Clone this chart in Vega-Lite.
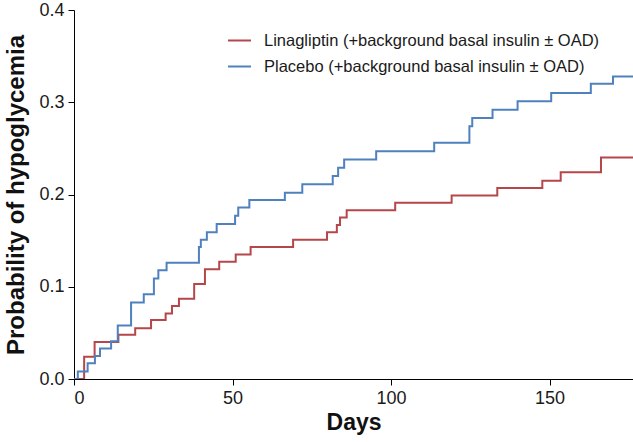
{
  "$schema": "https://vega.github.io/schema/vega-lite/v6.json",
  "width": 559,
  "height": 369,
  "autosize": {"type": "none"},
  "padding": {"left": 74, "top": 10, "right": 0, "bottom": 63},
  "background": "white",
  "config": {"view": {"stroke": null}, "font": "Liberation Sans"},
  "datasets": {
    "km": [
      {"series": "Linagliptin (+background basal insulin ± OAD)", "day": 0, "p": 0},
      {"series": "Linagliptin (+background basal insulin ± OAD)", "day": 3.2, "p": 0.024},
      {"series": "Linagliptin (+background basal insulin ± OAD)", "day": 6.5, "p": 0.04},
      {"series": "Linagliptin (+background basal insulin ± OAD)", "day": 14, "p": 0.048},
      {"series": "Linagliptin (+background basal insulin ± OAD)", "day": 19.3, "p": 0.055},
      {"series": "Linagliptin (+background basal insulin ± OAD)", "day": 24.3, "p": 0.064},
      {"series": "Linagliptin (+background basal insulin ± OAD)", "day": 28.9, "p": 0.071},
      {"series": "Linagliptin (+background basal insulin ± OAD)", "day": 30.9, "p": 0.079},
      {"series": "Linagliptin (+background basal insulin ± OAD)", "day": 33.1, "p": 0.087},
      {"series": "Linagliptin (+background basal insulin ± OAD)", "day": 37.9, "p": 0.103},
      {"series": "Linagliptin (+background basal insulin ± OAD)", "day": 41.3, "p": 0.119},
      {"series": "Linagliptin (+background basal insulin ± OAD)", "day": 45.8, "p": 0.127},
      {"series": "Linagliptin (+background basal insulin ± OAD)", "day": 51, "p": 0.135},
      {"series": "Linagliptin (+background basal insulin ± OAD)", "day": 55.7, "p": 0.143},
      {"series": "Linagliptin (+background basal insulin ± OAD)", "day": 69.1, "p": 0.151},
      {"series": "Linagliptin (+background basal insulin ± OAD)", "day": 79.8, "p": 0.159},
      {"series": "Linagliptin (+background basal insulin ± OAD)", "day": 82.9, "p": 0.167},
      {"series": "Linagliptin (+background basal insulin ± OAD)", "day": 83.9, "p": 0.175},
      {"series": "Linagliptin (+background basal insulin ± OAD)", "day": 86, "p": 0.183},
      {"series": "Linagliptin (+background basal insulin ± OAD)", "day": 101.3, "p": 0.191},
      {"series": "Linagliptin (+background basal insulin ± OAD)", "day": 119.1, "p": 0.199},
      {"series": "Linagliptin (+background basal insulin ± OAD)", "day": 133.5, "p": 0.207},
      {"series": "Linagliptin (+background basal insulin ± OAD)", "day": 147.7, "p": 0.215},
      {"series": "Linagliptin (+background basal insulin ± OAD)", "day": 153.5, "p": 0.224},
      {"series": "Linagliptin (+background basal insulin ± OAD)", "day": 166.2, "p": 0.24},
      {"series": "Linagliptin (+background basal insulin ± OAD)", "day": 176.3, "p": 0.24},
      {"series": "Placebo (+background basal insulin ± OAD)", "day": 0, "p": 0},
      {"series": "Placebo (+background basal insulin ± OAD)", "day": 1.2, "p": 0.008},
      {"series": "Placebo (+background basal insulin ± OAD)", "day": 4.3, "p": 0.017},
      {"series": "Placebo (+background basal insulin ± OAD)", "day": 6.6, "p": 0.025},
      {"series": "Placebo (+background basal insulin ± OAD)", "day": 8.2, "p": 0.033},
      {"series": "Placebo (+background basal insulin ± OAD)", "day": 11.7, "p": 0.041},
      {"series": "Placebo (+background basal insulin ± OAD)", "day": 13.8, "p": 0.058},
      {"series": "Placebo (+background basal insulin ± OAD)", "day": 18, "p": 0.083},
      {"series": "Placebo (+background basal insulin ± OAD)", "day": 22, "p": 0.092},
      {"series": "Placebo (+background basal insulin ± OAD)", "day": 25.2, "p": 0.109},
      {"series": "Placebo (+background basal insulin ± OAD)", "day": 26.6, "p": 0.118},
      {"series": "Placebo (+background basal insulin ± OAD)", "day": 29.2, "p": 0.126},
      {"series": "Placebo (+background basal insulin ± OAD)", "day": 39.4, "p": 0.143},
      {"series": "Placebo (+background basal insulin ± OAD)", "day": 40, "p": 0.151},
      {"series": "Placebo (+background basal insulin ± OAD)", "day": 41.9, "p": 0.159},
      {"series": "Placebo (+background basal insulin ± OAD)", "day": 45, "p": 0.168},
      {"series": "Placebo (+background basal insulin ± OAD)", "day": 50.8, "p": 0.177},
      {"series": "Placebo (+background basal insulin ± OAD)", "day": 51.8, "p": 0.186},
      {"series": "Placebo (+background basal insulin ± OAD)", "day": 55.3, "p": 0.194},
      {"series": "Placebo (+background basal insulin ± OAD)", "day": 66.5, "p": 0.202},
      {"series": "Placebo (+background basal insulin ± OAD)", "day": 72, "p": 0.211},
      {"series": "Placebo (+background basal insulin ± OAD)", "day": 81.6, "p": 0.22},
      {"series": "Placebo (+background basal insulin ± OAD)", "day": 83.3, "p": 0.229},
      {"series": "Placebo (+background basal insulin ± OAD)", "day": 85.2, "p": 0.238},
      {"series": "Placebo (+background basal insulin ± OAD)", "day": 95.3, "p": 0.247},
      {"series": "Placebo (+background basal insulin ± OAD)", "day": 113.6, "p": 0.256},
      {"series": "Placebo (+background basal insulin ± OAD)", "day": 124.7, "p": 0.274},
      {"series": "Placebo (+background basal insulin ± OAD)", "day": 125.6, "p": 0.283},
      {"series": "Placebo (+background basal insulin ± OAD)", "day": 132, "p": 0.292},
      {"series": "Placebo (+background basal insulin ± OAD)", "day": 139.9, "p": 0.301},
      {"series": "Placebo (+background basal insulin ± OAD)", "day": 150.5, "p": 0.31},
      {"series": "Placebo (+background basal insulin ± OAD)", "day": 163, "p": 0.32},
      {"series": "Placebo (+background basal insulin ± OAD)", "day": 170, "p": 0.328},
      {"series": "Placebo (+background basal insulin ± OAD)", "day": 176.3, "p": 0.328}
    ]
  },
  "data": {"name": "km"},
  "mark": {"type": "line", "interpolate": "step-after", "strokeWidth": 2, "clip": true},
  "encoding": {
    "x": {
      "field": "day", "type": "quantitative",
      "scale": {"domain": [0, 176.3], "nice": false, "zero": true},
      "axis": {
        "title": "Days", "values": [0, 50, 100, 150], "grid": false,
        "domainColor": "#000", "tickColor": "#000", "tickSize": 6,
        "labelFontSize": 18, "labelColor": "#1a1a1a", "labelPadding": 4,
        "titleFontSize": 23, "titleFontWeight": "bold", "titleColor": "#111", "titlePadding": 4
      }
    },
    "y": {
      "field": "p", "type": "quantitative",
      "scale": {"domain": [0, 0.4], "nice": false},
      "axis": {
        "title": "Probability of hypoglycemia", "values": [0, 0.1, 0.2, 0.3, 0.4], "format": ".1f", "grid": false,
        "domainColor": "#000", "tickColor": "#000", "tickSize": 6,
        "labelFontSize": 18, "labelColor": "#1a1a1a", "labelPadding": 4,
        "titleFontSize": 24, "titleFontWeight": "bold", "titleColor": "#111", "titlePadding": 10
      }
    },
    "color": {
      "field": "series", "type": "nominal",
      "scale": {
        "domain": ["Linagliptin (+background basal insulin ± OAD)", "Placebo (+background basal insulin ± OAD)"],
        "range": ["#b5474b", "#4f81bd"]
      },
      "legend": {
        "title": null, "orient": "none", "legendX": 153, "legendY": 18,
        "symbolType": "stroke", "symbolSize": 529, "symbolStrokeWidth": 2,
        "labelFontSize": 16.5, "labelColor": "#1a1a1a", "labelLimit": 600,
        "rowPadding": 5, "labelOffset": 12
      }
    }
  }
}
